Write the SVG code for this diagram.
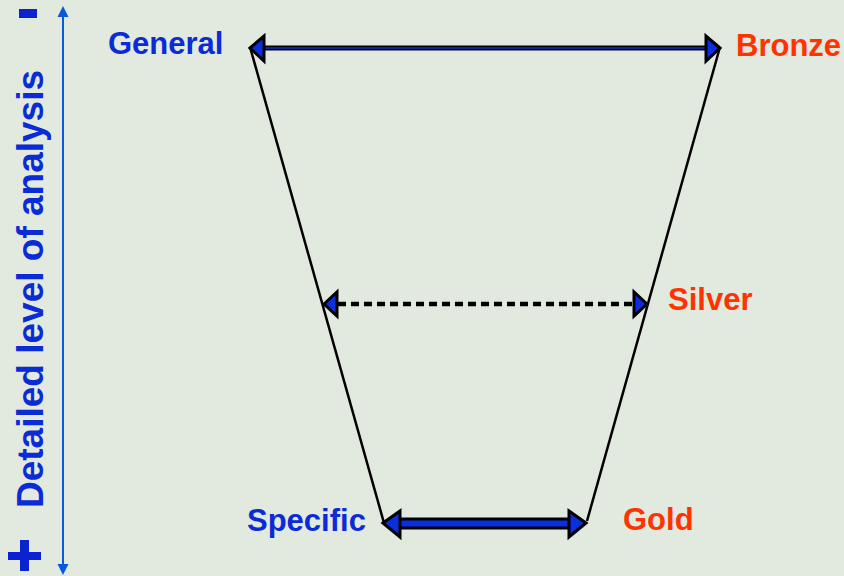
<svg xmlns="http://www.w3.org/2000/svg" width="844" height="576" viewBox="0 0 844 576">
<style>
.lbl{font-family:"Liberation Sans",Arial,sans-serif;font-weight:bold;font-size:31px}
.blue{fill:#0a2bd6}
.red{fill:#ff3300}
.head{fill:#0a2fe0;stroke:#000;stroke-width:3;stroke-linejoin:miter}
.side{stroke:#000;stroke-width:2.5;fill:none}
</style>
<rect width="844" height="576" fill="#e2e9de"/>
<g id="axis">
<line x1="63" y1="14" x2="63" y2="566" stroke="#0a58e0" stroke-width="2"/>
<polygon points="63,6 57.5,17 68.5,17" fill="#0a58e0"/>
<polygon points="63,575 57.5,564 68.5,564" fill="#0a58e0"/>
<rect x="19" y="9" width="18" height="9" fill="#0a22d0"/>
<rect x="8" y="552" width="33" height="8" fill="#0a22d0"/>
<rect x="20" y="540" width="9" height="31" fill="#0a22d0"/>
<text class="lbl blue" font-size="37" style="font-size:37px" transform="translate(43,508) rotate(-90)">Detailed level of analysis</text>
</g>
<g id="connectors">
<line class="side" x1="250" y1="47" x2="384" y2="523"/>
<line class="side" x1="720" y1="47" x2="587" y2="521"/>
<line x1="262" y1="48" x2="708" y2="48" stroke="#000" stroke-width="5"/>
<line x1="262" y1="48" x2="708" y2="48" stroke="#0a2fe0" stroke-width="1.5"/>
<polygon class="head" points="250,48 264,36 264,61"/>
<polygon class="head" points="720,48 706,36 706,61"/>
<line x1="338" y1="304" x2="633" y2="304" stroke="#000" stroke-width="4.5" stroke-dasharray="8 5"/>
<polygon class="head" points="324,304 337,292 337,316"/>
<polygon class="head" points="647,304 634,292 634,316"/>
<rect x="398" y="519" width="172" height="9" fill="#0a2fe0" stroke="#000" stroke-width="3"/>
<polygon class="head" points="383,523 400,511 400,537"/>
<polygon class="head" points="586,523 569,511 569,537"/>
</g>
<g id="general"><text class="lbl blue" x="108" y="54">General</text></g>
<g id="bronze"><text class="lbl red" x="736" y="56">Bronze</text></g>
<g id="silver"><text class="lbl red" x="668" y="310">Silver</text></g>
<g id="specific"><text class="lbl blue" x="247" y="531">Specific</text></g>
<g id="gold"><text class="lbl red" x="623" y="530">Gold</text></g>
</svg>
